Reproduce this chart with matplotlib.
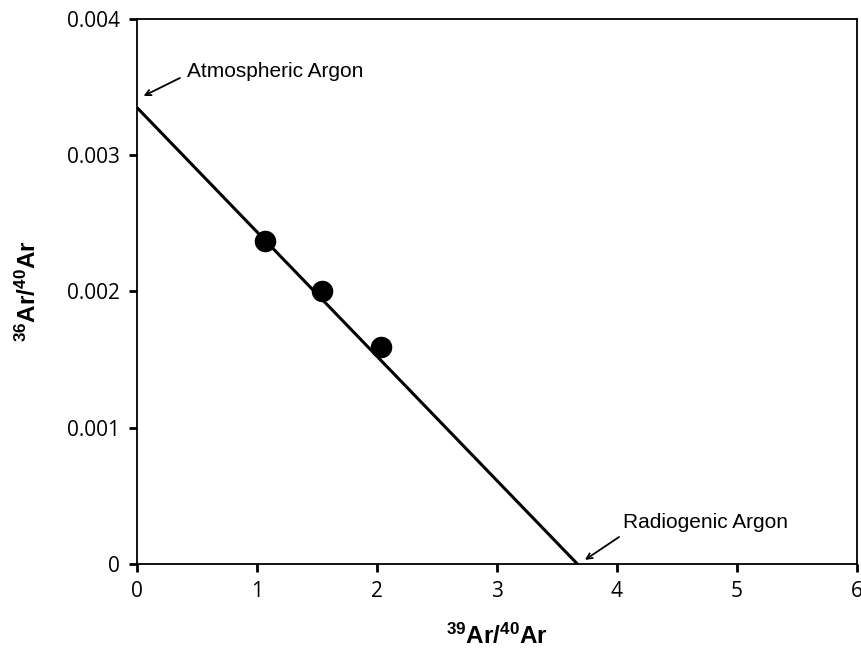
import matplotlib.pyplot as plt
import numpy as np

plt.rcParams['mathtext.fontset'] = 'custom'
plt.rcParams['mathtext.rm'] = 'Liberation Sans'
plt.rcParams['mathtext.bf'] = 'Liberation Sans:bold'

# measured ratios
x_pts = [1.07, 1.54, 2.03]
y_pts = [0.00237, 0.00200, 0.00159]

# isochron line: atmospheric intercept to radiogenic intercept
line_x = [0.0, 3.67]
line_y = [0.00335, 0.0]

xticks = [0, 1, 2, 3, 4, 5, 6]
yticks = [0, 0.001, 0.002, 0.003, 0.004]
ytick_labels = ['0', '0.001', '0.002', '0.003', '0.004']

fig = plt.figure(figsize=(8.62, 6.57), dpi=100)
ax = fig.add_axes([0.1589, 0.1416, 0.8353, 0.8295])

ax.plot(line_x, line_y, color='black', lw=2.2, solid_capstyle='butt')
ax.plot(x_pts, y_pts, 'o', color='black', ms=14.5)

ax.set_xlim(0, 6)
ax.set_ylim(0, 0.004)
ax.set_xticks(xticks)
ax.set_yticks(yticks)
ax.set_yticklabels(ytick_labels)
ax.tick_params(direction='out', length=6, width=2, labelsize=15, pad=6)
for lab in ax.get_xticklabels() + ax.get_yticklabels():
    lab.set_family('Open Sans')
for s in ax.spines.values():
    s.set_linewidth(1.3)

ax.set_xlabel(r'$\mathbf{^{39}Ar/^{40}Ar}$', fontsize=17.5, labelpad=16)
ax.set_ylabel(r'$\mathbf{^{36}Ar/^{40}Ar}$', fontsize=17.5, labelpad=19)

# annotations
ax.annotate('', xy=(0.055, 0.003435), xytext=(0.358, 0.003567),
            arrowprops=dict(arrowstyle='->', color='black', lw=1.3,
                            shrinkA=0, shrinkB=0))
ax.text(0.417, 0.003574, 'Atmospheric Argon', fontsize=15,
        family='Liberation Sans', va='baseline', ha='left')

ax.annotate('', xy=(3.733, 0.00003), xytext=(4.017, 0.000198),
            arrowprops=dict(arrowstyle='->', color='black', lw=1.3,
                            shrinkA=0, shrinkB=0))
ax.text(4.05, 0.000264, 'Radiogenic Argon', fontsize=15,
        family='Liberation Sans', va='baseline', ha='left')

fig.savefig('out.png', dpi=100)
